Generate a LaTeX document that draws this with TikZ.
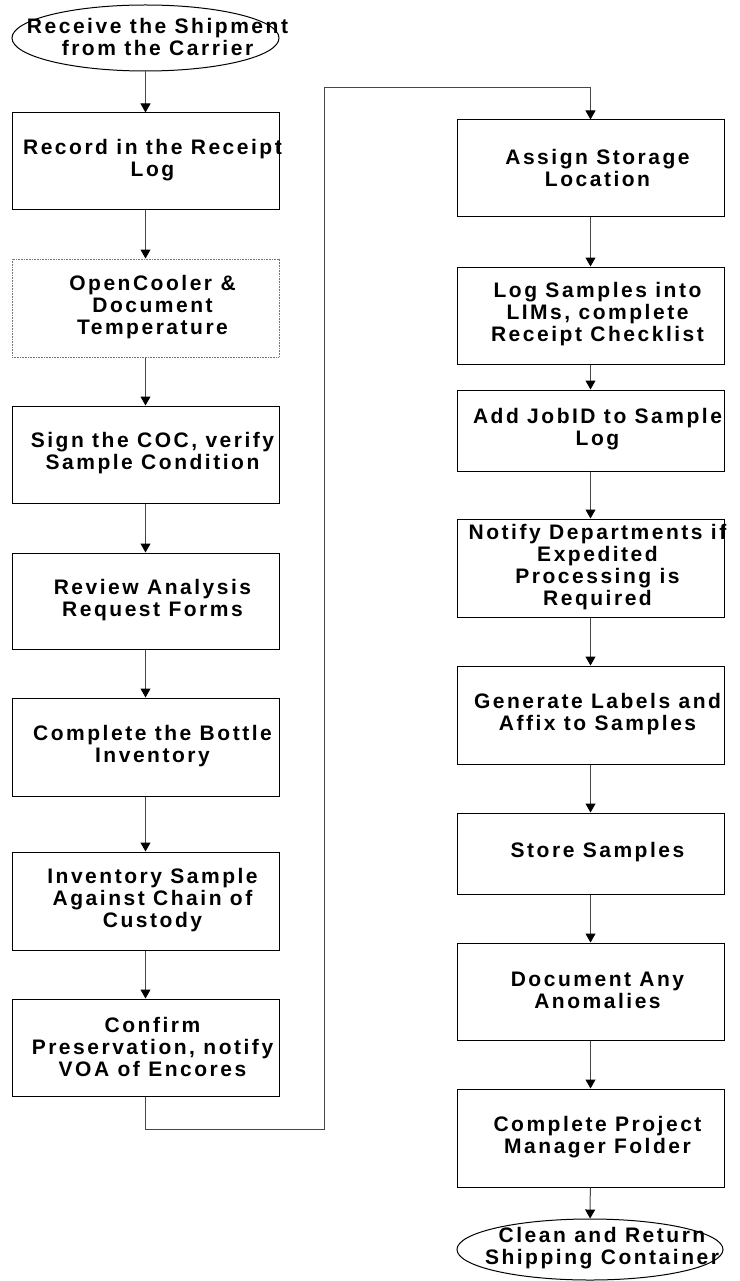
\documentclass[tikz,border=0pt]{standalone}
\usepackage{fontspec}
\newfontfamily\flowfont{Liberation Sans Bold}[LetterSpace=12]
\usetikzlibrary{arrows.meta,shapes.geometric}
\begin{document}
\begin{tikzpicture}[x=1pt,y=-1pt,
  stepbox/.style={draw=black,line width=1pt,fill=white,rectangle,minimum width=267pt,inner sep=0pt},
  dotbox/.style={stepbox,draw=black!55,dash pattern=on 0.8pt off 0.8pt},
  term/.style={draw=black,line width=1pt,fill=white,ellipse,inner sep=0pt},
  txt/.style={align=center,inner sep=0pt,font=\flowfont\fontsize{21}{22}\selectfont},
  conn/.style={draw=black!72,line width=1pt,-{Triangle[width=10pt,length=9pt,color=black]}},
  plain/.style={draw=black!72,line width=1pt}]
\useasboundingbox[fill=white] (0,0) rectangle (739,1281);
% left column
\node[term,minimum width=267pt,minimum height=66pt] (start) at (145.5,38) {};
\node[txt] (startT) at ([xshift=12pt,yshift=1pt]start.center) {Receive the Shipment\\from the Carrier};
\node[stepbox,minimum height=97pt] (L1) at (145.5,161.5) {};
\node[txt] (L1T) at ([xshift=7pt,yshift=1pt]L1.center) {Record in the Receipt\\Log};
\node[dotbox,minimum height=98pt] (L2) at (145.5,308) {};
\node[txt] (L2T) at ([xshift=7pt,yshift=1pt]L2.center) {OpenCooler \&\\Document\\Temperature};
\node[stepbox,minimum height=97pt] (L3) at (145.5,454.5) {};
\node[txt] (L3T) at ([xshift=7pt,yshift=1pt]L3.center) {Sign the COC, verify\\Sample Condition};
\node[stepbox,minimum height=96pt] (L4) at (145.5,601) {};
\node[txt] (L4T) at ([xshift=7pt,yshift=1pt]L4.center) {Review Analysis\\Request Forms};
\node[stepbox,minimum height=98pt] (L5) at (145.5,747) {};
\node[txt] (L5T) at ([xshift=7pt,yshift=1pt]L5.center) {Complete the Bottle\\Inventory};
\node[stepbox,minimum height=98pt] (L6) at (145.5,901) {};
\node[txt] (L6T) at ([xshift=7pt,yshift=1pt]L6.center) {Inventory Sample\\Against Chain of\\Custody};
\node[stepbox,minimum height=97pt] (L7) at (145.5,1047.5) {};
\node[txt] (L7T) at ([xshift=7pt,yshift=1pt]L7.center) {Confirm\\Preservation, notify\\VOA of Encores};
% right column
\node[stepbox,minimum height=97pt] (R1) at (590.5,168.5) {};
\node[txt] (R1T) at ([xshift=7pt,yshift=1pt]R1.center) {Assign Storage\\Location};
\node[stepbox,minimum height=97pt] (R2) at (590.5,315.5) {};
\node[txt] (R2T) at ([xshift=7pt,yshift=1pt]R2.center) {Log Samples into\\LIMs, complete\\Receipt Checklist};
\node[stepbox,minimum height=81pt] (R3) at (590.5,430.5) {};
\node[txt] (R3T) at ([xshift=7pt,yshift=1pt]R3.center) {Add JobID to Sample\\Log};
\node[stepbox,minimum height=98pt] (R4) at (590.5,568) {};
\node[txt] (R4T) at ([xshift=7pt,yshift=1pt]R4.center) {Notify Departments if\\Expedited\\Processing is\\Required};
\node[stepbox,minimum height=98pt] (R5) at (590.5,715) {};
\node[txt] (R5T) at ([xshift=7pt,yshift=1pt]R5.center) {Generate Labels and\\Affix to Samples};
\node[stepbox,minimum height=81pt] (R6) at (590.5,853.5) {};
\node[txt] (R6T) at ([xshift=7pt,yshift=1pt]R6.center) {Store Samples};
\node[stepbox,minimum height=97pt] (R7) at (590.5,991.5) {};
\node[txt] (R7T) at ([xshift=7pt,yshift=1pt]R7.center) {Document Any\\Anomalies};
\node[stepbox,minimum height=98pt] (R8) at (590.5,1138) {};
\node[txt] (R8T) at ([xshift=7pt,yshift=1pt]R8.center) {Complete Project\\Manager Folder};
\node[term,minimum width=266pt,minimum height=61pt] (finish) at (590,1249.5) {};
\node[txt] (finishT) at ([xshift=12pt,yshift=1pt]finish.center) {Clean and Return\\Shipping Container};
% connectors
\coordinate (c1) at (324,1129);
\coordinate (c2) at (324,88);
\draw[conn] (start) -- (L1);
\draw[conn] (L1) -- (L2);
\draw[conn] (L2) -- (L3);
\draw[conn] (L3) -- (L4);
\draw[conn] (L4) -- (L5);
\draw[conn] (L5) -- (L6);
\draw[conn] (L6) -- (L7);
\draw[conn] (L7.south) |- (c1) -- (c2) -| (R1.north);
\draw[conn] (R1) -- (R2);
\draw[conn] (R2) -- (R3);
\draw[conn] (R3) -- (R4);
\draw[conn] (R4) -- (R5);
\draw[conn] (R5) -- (R6);
\draw[conn] (R6) -- (R7);
\draw[conn] (R7) -- (R8);
\draw[conn] (R8) -- (finish);
\end{tikzpicture}
\end{document}
